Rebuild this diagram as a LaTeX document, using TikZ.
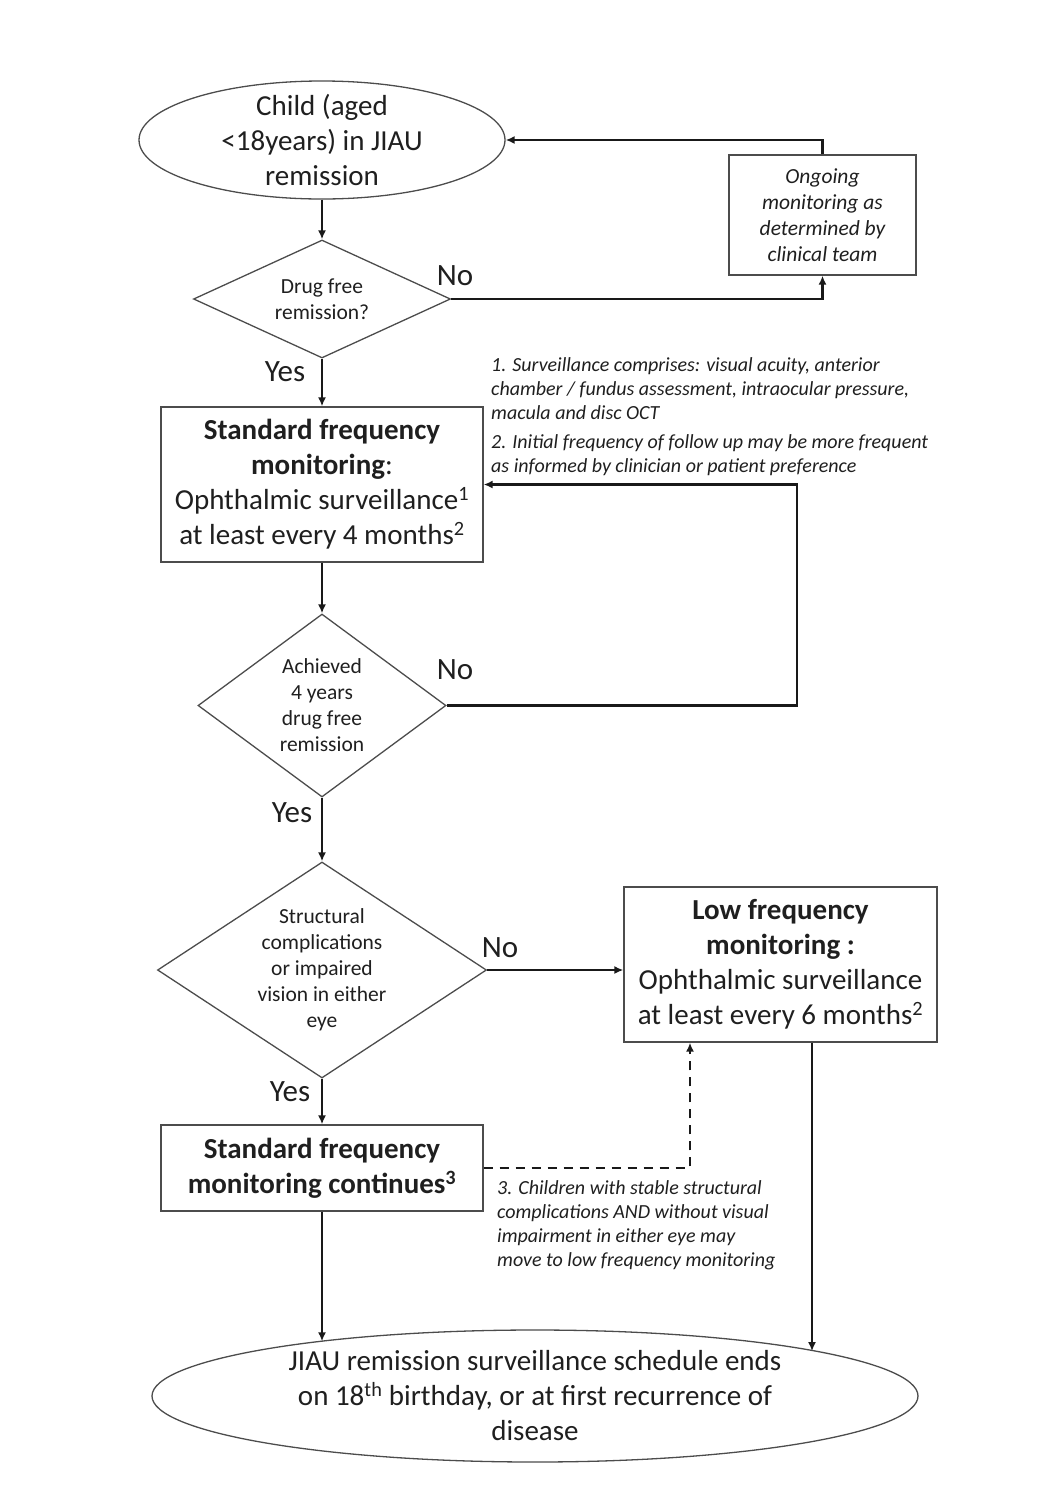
\documentclass[tikz,border=0pt]{standalone}
\usepackage{fontspec}
\setmainfont{Carlito}
\usetikzlibrary{shapes.geometric,arrows.meta}
\begin{document}
\begin{tikzpicture}[x=1pt,y=-1pt,
  every node/.style={text=black!88},
  big/.style={font=\fontsize{29}{35}\selectfont},
  small/.style={font=\fontsize{21.5}{26}\selectfont},
  ital/.style={font=\fontsize{21.5}{26}\selectfont\itshape},
  note/.style={font=\fontsize{20}{24}\selectfont\itshape, align=left, anchor=base west, inner sep=0pt},
  yn/.style={font=\fontsize{31}{34}\selectfont, inner sep=0pt},
  ell/.style={ellipse, draw=black!70, line width=1.3pt, align=center, inner sep=-12pt, big},
  dia/.style={diamond, draw=black!70, line width=1.3pt, align=center, inner sep=0pt, small},
  boxn/.style={rectangle, draw=black!70, line width=1.3pt, align=center, inner sep=0pt},
  arr/.style={-{Latex[length=9pt,width=8pt]}, line width=2.2pt, black!90}
]
\useasboundingbox (0,0) rectangle (1047,1497);

% nodes
\node[ell, minimum width=366, minimum height=118] (start) at (322,140) {Child (aged\\<18years) in JIAU\\remission};
\node[boxn, ital, minimum width=187, minimum height=120] (ong) at (822.5,215) {Ongoing\\monitoring as\\determined by\\clinical team};
\node[dia, aspect=2.17, minimum width=257, minimum height=118] (d1) at (322,299) {Drug free\\remission?};
\node[boxn, big, minimum width=322, minimum height=155] (box2) at (322,484.5) {\textbf{Standard frequency}\\\textbf{monitoring}:\\Ophthalmic surveillance\textsuperscript{1}\\at least every 4 months\textsuperscript{2}};
\node[dia, aspect=1.36, minimum width=248, minimum height=183] (d2) at (322,705.5) {Achieved\\4 years\\drug free\\remission};
\node[dia, aspect=1.52, minimum width=329, minimum height=216] (d3) at (322,970) {Structural\\complications\\or impaired\\vision in either\\eye};
\node[boxn, big, minimum width=313, minimum height=155] (low) at (780.5,964.5) {\textbf{Low frequency}\\\textbf{monitoring :}\\Ophthalmic surveillance\\at least every 6 months\textsuperscript{2}};
\node[boxn, big, minimum width=322, minimum height=86] (box3) at (322,1168) {\textbf{Standard frequency}\\\textbf{monitoring continues\textsuperscript{3}}};
\node[ell, minimum width=766, minimum height=132] (bot) at (535,1396) {JIAU remission surveillance schedule ends\\on 18\textsuperscript{th} birthday, or at first recurrence of\\disease};

% notes (anchor is baseline of last line)
\node[note] (n1) at (491,419) {1. Surveillance comprises: visual acuity, anterior\\chamber / fundus assessment, intraocular pressure,\\macula and disc OCT};
\node[note] (n2) at (491,472) {2. Initial frequency of follow up may be more frequent\\as informed by clinician or patient preference};
\node[note] (n3) at (497,1266) {3. Children with stable structural\\complications AND without visual\\impairment in either eye may\\move to low frequency monitoring};

% yes/no labels
\node[yn] (no1) at (455,276) {No};
\node[yn] (yes1) at (285,372) {Yes};
\node[yn] (no2) at (455,670) {No};
\node[yn] (yes2) at (292,813) {Yes};
\node[yn] (no3) at (500,948) {No};
\node[yn] (yes3) at (290,1092) {Yes};

\coordinate (loopR) at (797,0);
\coordinate (dashX) at (690,0);
\coordinate (lowOut) at (812,0);

% connectors
\draw[arr] (start.south) -- (d1.north);
\draw[arr] (d1.east) -- (d1.east -| ong.south) -- (ong.south);
\draw[arr] (ong.north) |- (start.east);
\draw[arr] (d1.south) -- (box2.north);
\draw[arr] (box2.south) -- (d2.north);
\draw[arr] (d2.east) -- (d2.east -| loopR) -- (box2.east -| loopR) -- (box2.east);
\draw[arr] (d2.south) -- (d3.north);
\draw[arr] (d3.east) -- (d3.east -| low.west);
\draw[arr] (d3.south) -- (box3.north);
\draw[arr, dash pattern=on 9pt off 7pt] (box3.east) -| (dashX |- low.south);
\draw[arr] (box3.south) -- (box3.south |- bot.166);
\draw[arr] (lowOut |- low.south) -- (lowOut |- bot.9);
\end{tikzpicture}
\end{document}
